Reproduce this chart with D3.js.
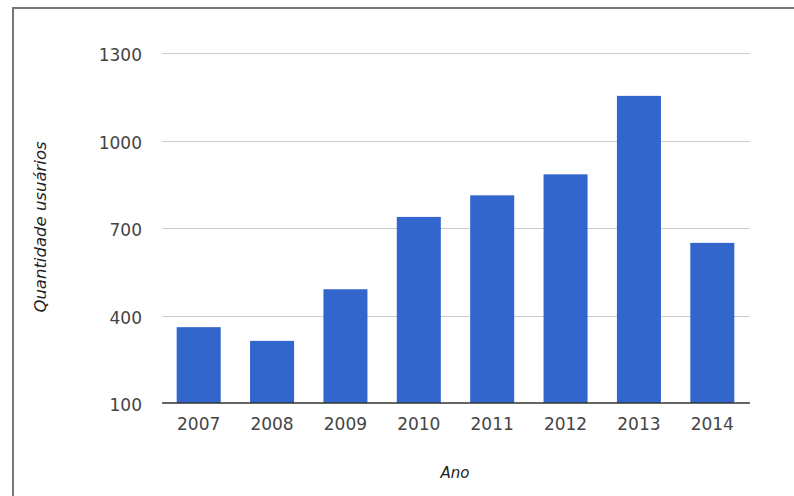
<!DOCTYPE html>
<html>
<head>
<meta charset="utf-8">
<script src="https://cdn.jsdelivr.net/npm/d3@7"></script>
<style>
  html, body { margin: 0; padding: 0; background: #fff; }
  svg { display: block; }
</style>
</head>
<body>
<svg id="chart" width="794" height="496"></svg>
<script>
const categories = ["2007", "2008", "2009", "2010", "2011", "2012", "2013", "2014"];
const values = [360, 313, 490, 738, 812, 884, 1153, 649];
const yTicks = [100, 400, 700, 1000, 1300];
const xTitle = "Ano";
const yTitle = "Quantidade usuários";

const svg = d3.select("#chart");
const font = "'DejaVu Sans', sans-serif";

// frame
svg.append("path")
  .attr("d", "M13,496 V8 H794")
  .attr("fill", "none")
  .attr("stroke", "#777")
  .attr("stroke-width", 2);

const x = d3.scaleBand().domain(categories).range([162, 749]).paddingInner(0.4).paddingOuter(0.2);
const y = d3.scaleLinear().domain([100, 1300]).range([403, 53]);

// gridlines
svg.append("g").selectAll("line").data(yTicks.filter(t => t !== 100)).join("line")
  .attr("x1", 162).attr("x2", 750)
  .attr("y1", d => Math.round(y(d)) + 0.5).attr("y2", d => Math.round(y(d)) + 0.5)
  .attr("stroke", "#cccccc").attr("stroke-width", 1);

// bars
svg.append("g").selectAll("rect").data(values).join("rect")
  .attr("x", (d, i) => x(categories[i]))
  .attr("width", x.bandwidth())
  .attr("y", d => y(d))
  .attr("height", d => y(100) - y(d))
  .attr("fill", "#3366cc");

// baseline
svg.append("line")
  .attr("x1", 162).attr("x2", 750)
  .attr("y1", y(100)).attr("y2", y(100))
  .attr("stroke", "#333").attr("stroke-width", 1.5);

// y tick labels
svg.append("g").selectAll("text").data(yTicks).join("text")
  .attr("x", 142)
  .attr("y", d => y(d) + 8)
  .attr("text-anchor", "end")
  .attr("font-family", font)
  .attr("font-size", 17)
  .attr("fill", "#444")
  .text(d => d);

// x tick labels
svg.append("g").selectAll("text").data(categories).join("text")
  .attr("x", d => x(d) + x.bandwidth() / 2)
  .attr("y", 430)
  .attr("text-anchor", "middle")
  .attr("font-family", font)
  .attr("font-size", 17)
  .attr("fill", "#444")
  .text(d => d);

// axis titles
svg.append("text")
  .attr("x", 455).attr("y", 478)
  .attr("text-anchor", "middle")
  .attr("font-family", font)
  .attr("font-style", "italic")
  .attr("font-size", 15)
  .attr("fill", "#222")
  .text(xTitle);

svg.append("text")
  .attr("transform", "translate(46,227) rotate(-90)")
  .attr("text-anchor", "middle")
  .attr("font-family", font)
  .attr("font-style", "italic")
  .attr("font-size", 16.5)
  .attr("fill", "#222")
  .text(yTitle);
</script>
</body>
</html>
